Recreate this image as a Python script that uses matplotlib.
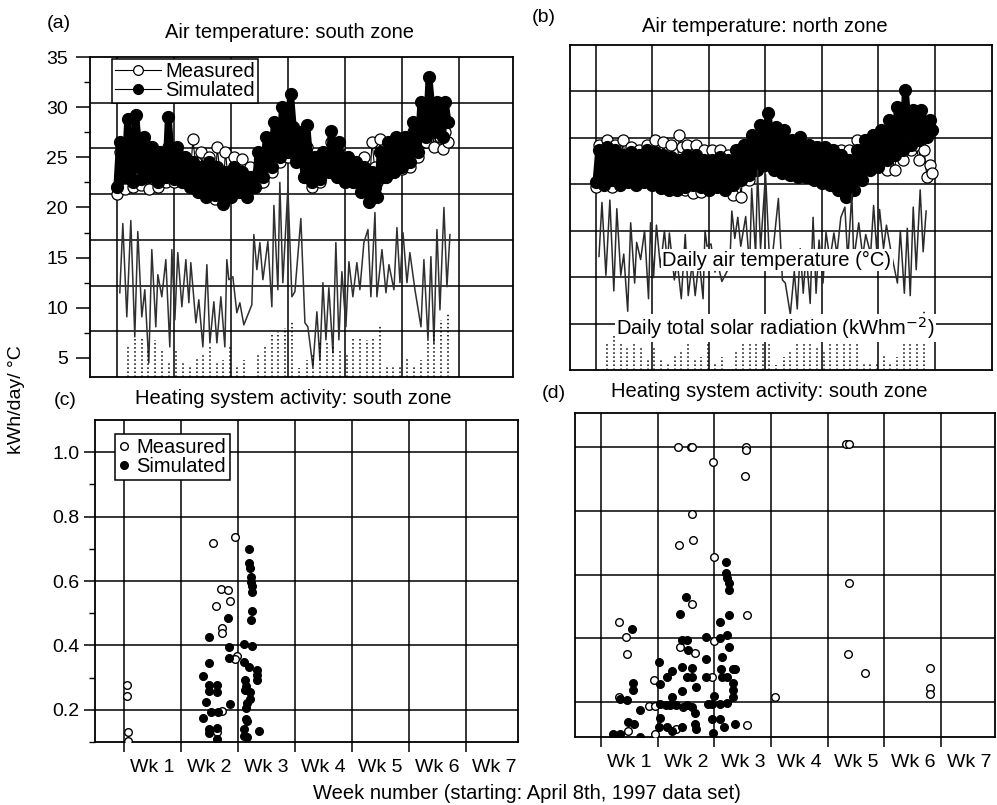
"""
Four-panel validation figure: zone air temperatures (measured vs simulated) with the
daily climate, and the heating-system activity for the south zone.
Output: out.png
"""
import numpy as np
import matplotlib; matplotlib.use("Agg"); import matplotlib.pyplot as plt

plt.rcParams['font.family'] = ['Liberation Sans', 'DejaVu Sans']
plt.rcParams['font.size'] = 14

# zone air temperature, 3 readings per day (low, high, mid), day 0 = April 8th
sim_south = [22.0, 26.5, 24.0, 23.0, 28.8, 25.5, 22.5, 29.2, 26.0, 22.8, 27.0, 24.5,
             23.0, 26.0, 24.2, 22.5, 25.5, 24.0, 23.0, 29.0, 25.0, 22.8, 26.0, 24.5,
             22.5, 25.0, 23.8, 22.0, 24.5, 23.2, 21.5, 24.0, 22.8, 21.0, 24.5, 22.5,
             21.2, 24.0, 22.5, 20.3, 23.5, 22.0, 21.0, 24.0, 22.5, 21.5, 23.5, 22.5,
             21.0, 23.0, 22.0, 22.0, 25.5, 23.5, 23.0, 27.0, 25.0, 24.0, 28.5, 26.0,
             25.0, 30.0, 27.5, 25.5, 31.3, 28.0, 24.5, 27.5, 26.0, 23.0, 28.2, 25.0,
             22.5, 25.0, 23.8, 22.8, 25.5, 24.0, 23.5, 27.6, 25.5, 23.0, 26.5, 24.5,
             22.5, 25.0, 23.8, 22.5, 24.5, 23.5, 21.5, 24.0, 22.8, 20.5, 23.5, 22.0,
             21.0, 25.5, 23.0, 23.0, 26.5, 24.8, 23.5, 27.0, 25.2, 24.0, 27.0, 25.5,
             24.5, 28.5, 26.5, 25.5, 30.5, 28.0, 27.0, 33.0, 30.0, 27.5, 30.5, 29.0,
             27.0, 30.5, 28.5]
meas_south = [21.3, 25.5, 23.0, 21.8, 26.5, 24.0, 22.0, 27.0, 24.0, 22.2, 26.5, 24.0,
              21.8, 25.5, 23.5, 22.0, 25.0, 23.0, 22.5, 26.0, 24.0, 22.5, 25.5, 24.0,
              22.8, 25.0, 23.5, 22.5, 26.8, 24.5, 22.0, 25.5, 24.0, 21.5, 25.0, 23.0,
              20.8, 26.0, 23.5, 21.0, 25.5, 23.0, 21.3, 25.0, 23.5, 21.5, 24.8, 23.0,
              21.5, 24.0, 22.5, 22.0, 23.5, 22.5, 22.5, 25.5, 24.0, 23.5, 26.5, 25.0,
              24.5, 27.5, 26.0, 25.0, 28.0, 26.0, 24.8, 26.5, 25.5, 23.0, 26.0, 24.5,
              22.0, 25.0, 23.5, 22.5, 25.5, 24.0, 23.5, 26.5, 25.0, 23.0, 26.0, 24.5,
              22.5, 25.0, 23.5, 22.5, 24.5, 23.5, 22.0, 25.0, 23.5, 21.5, 26.5, 24.0,
              22.5, 26.8, 24.5, 23.0, 26.0, 24.5, 23.5, 26.5, 25.0, 23.8, 27.0, 25.0,
              24.0, 27.5, 25.5, 25.0, 28.0, 26.5, 26.5, 30.0, 28.0, 26.0, 28.5, 27.0,
              25.8, 27.5, 26.5]
sim_north = [22.3, 25.5, 24.0, 22.0, 25.8, 23.5, 22.5, 25.5, 24.0, 22.0, 25.0, 23.5,
             22.3, 25.3, 23.8, 22.0, 25.0, 23.5, 22.3, 25.5, 24.0, 22.0, 25.3, 23.5,
             21.7, 25.0, 23.2, 21.5, 24.8, 23.0, 21.5, 24.5, 23.0, 21.8, 25.0, 23.2,
             22.0, 25.0, 23.5, 21.8, 24.5, 23.0, 21.5, 24.5, 23.0, 21.8, 24.8, 23.2,
             21.5, 24.5, 23.0, 22.0, 25.5, 23.5, 22.5, 26.0, 24.0, 23.0, 27.0, 25.0,
             23.5, 28.0, 25.5, 24.0, 29.2, 26.5, 23.5, 27.8, 25.5, 23.2, 27.5, 25.0,
             23.0, 26.5, 24.5, 22.8, 26.8, 24.5, 22.8, 26.0, 24.2, 22.5, 25.8, 24.0,
             22.2, 25.8, 24.0, 22.0, 25.5, 23.5, 21.5, 25.0, 23.2, 20.8, 24.5, 22.5,
             21.5, 25.5, 23.5, 22.5, 26.5, 24.5, 23.5, 27.0, 25.0, 23.8, 27.5, 25.5,
             24.5, 28.5, 26.5, 25.0, 29.8, 27.0, 25.5, 31.5, 28.0, 26.0, 29.5, 27.5,
             26.5, 29.5, 28.0, 26.8, 28.5, 27.5]
meas_north = [21.8, 26.0, 24.0, 22.5, 26.5, 24.5, 21.8, 26.0, 24.0, 22.5, 26.5, 24.5,
              22.5, 25.8, 24.0, 22.8, 25.5, 24.0, 22.5, 26.0, 24.0, 23.0, 26.5, 25.0,
              22.8, 26.3, 24.5, 22.5, 26.0, 24.0, 23.0, 27.0, 25.8, 21.5, 26.0, 23.5,
              21.2, 26.0, 23.5, 21.3, 25.5, 23.5, 21.5, 25.5, 23.5, 22.0, 25.5, 24.0,
              21.8, 25.0, 23.5, 21.0, 25.5, 23.0, 20.8, 26.0, 23.0, 22.5, 26.5, 24.5,
              23.5, 26.8, 25.0, 25.0, 27.0, 26.0, 24.0, 27.0, 25.5, 23.5, 26.5, 25.0,
              23.0, 26.0, 24.5, 23.5, 26.8, 25.0, 23.0, 26.0, 24.5, 23.0, 25.8, 24.5,
              22.5, 25.5, 24.0, 24.5, 25.5, 25.0, 24.0, 25.5, 24.8, 23.5, 25.5, 24.5,
              24.5, 26.5, 25.5, 24.0, 26.5, 25.0, 24.5, 27.0, 25.5, 24.0, 26.8, 25.5,
              23.5, 26.5, 25.0, 23.5, 26.0, 25.0, 24.5, 27.0, 26.0, 25.5, 26.8, 26.0,
              24.5, 26.5, 25.5, 22.8, 24.0, 23.2]

# daily climate (days since start)
clim_day = [0.37, 0.74, 1.23, 1.72, 2.21, 2.58, 3.07, 3.44, 3.93, 4.30, 4.79, 5.04,
            5.53, 6.02, 6.51, 6.76, 7.13, 7.49, 7.99, 8.48, 8.85, 9.09, 9.71, 10.07,
            10.57, 11.06, 11.43, 11.92, 12.29, 12.78, 13.27, 13.51, 13.76, 14.25, 14.74,
            15.11, 15.60, 16.58, 16.83, 17.20, 17.57, 17.94, 18.55, 19.04, 19.29, 19.78,
            20.02, 20.39, 21.01, 21.50, 21.87, 22.60, 23.10, 23.46, 24.08, 24.57, 24.94,
            25.31, 25.68, 26.04, 26.54, 26.90, 27.27, 27.64, 28.13, 28.50, 28.99, 29.48,
            29.85, 30.34, 30.84, 31.20, 31.70, 31.94, 32.56, 33.05, 33.42, 34.03, 34.40,
            34.77, 35.14, 35.63, 35.99, 36.61, 37.35, 37.71, 38.21, 38.57, 38.94, 39.31,
            39.68, 40.17, 40.54, 40.91]
clim_temp = [11.5, 18.4, 9.1, 18.7, 7.1, 17.6, 9.1, 11.8, 4.5, 15.8, 8.1, 13.3,
             11.1, 14.8, 6.1, 15.8, 8.8, 15.5, 10.1, 14.8, 10.5, 14.5, 8.5, 10.8,
             6.1, 14.3, 6.5, 10.6, 6.5, 11.1, 6.1, 14.8, 12.8, 13.1, 9.5,
             10.5, 8.3, 10.3, 17.3, 13.8, 16.5, 12.8, 16.6, 10.1, 20.2, 11.8,
             22.5, 12.5, 22.0, 11.1, 11.6, 18.9, 8.5, 8.1, 4.1, 9.6, 4.8,
             12.5, 6.8, 12.0, 5.5, 16.5, 6.8, 13.6, 8.1, 14.6, 11.1, 14.5,
             11.8, 16.5, 17.8, 11.1, 19.5, 11.1, 15.8, 11.5, 14.3, 11.8, 18.0,
             12.5, 17.5, 12.5, 15.5, 11.8, 8.1, 14.8, 6.8, 15.1, 6.5, 17.8,
             9.8, 20.0, 12.1, 17.3]
solar_day = [1.35, 2.21, 3.07, 3.81, 4.67, 5.53, 6.39, 7.25, 8.11, 8.97, 9.83, 10.57,
             11.43, 12.29, 13.02, 13.88, 14.74, 15.60, 17.32, 18.18, 19.04, 19.78, 20.64,
             21.50, 22.36, 23.34, 24.08, 24.94, 25.80, 26.54, 27.40, 28.26, 28.99, 29.85,
             30.71, 31.45, 32.31, 33.17, 33.91, 34.77, 35.63, 36.49, 37.35, 38.21, 38.94,
             39.80, 40.66]
solar_kwh = [6.1, 7.0, 7.1, 5.8, 6.8, 5.8, 4.5, 5.8, 4.5, 4.3, 5.1, 5.5,
             6.1, 4.6, 4.8, 6.1, 4.1, 4.8, 5.5, 6.3, 7.3, 7.6, 8.0,
             8.6, 4.0, 4.8, 5.5, 6.5, 6.5, 6.1, 5.8, 5.5, 7.1, 7.1,
             6.8, 7.1, 8.3, 4.3, 4.3, 4.3, 5.0, 4.1, 4.8, 6.8, 7.8,
             8.8, 9.5]

# heating system activity (week, kWh/day)
c_meas_wk = [0.05, 0.05, 0.07, 0.07, 1.56, 1.95, 1.70, 1.82, 1.61, 1.86, 1.72, 1.72,
             1.98, 1.95, 1.72, 1.63]
c_meas = [0.276, 0.242, 0.13, 0.104, 0.717, 0.737, 0.575, 0.571, 0.522, 0.537, 0.453,
          0.438, 0.367, 0.357, 0.196, 0.13]
c_sim_wk = [1.49, 1.39, 1.49, 1.49, 1.49, 1.63, 1.63, 1.44, 1.53, 1.65, 1.39, 1.49,
            1.49, 1.63, 1.63, 1.82, 1.84, 1.84, 1.86, 2.19, 2.19, 2.21, 2.23, 2.23,
            2.25, 2.25, 2.25, 2.23, 2.25, 2.11, 2.11, 2.19, 2.33, 2.33, 2.33, 2.12,
            2.14, 2.12, 2.21, 2.21, 2.16, 2.14, 2.14, 2.16, 2.11, 2.11, 2.16, 2.37]
c_sim = [0.425, 0.305, 0.345, 0.276, 0.258, 0.276, 0.255, 0.224, 0.193, 0.193, 0.174,
         0.14, 0.127, 0.143, 0.11, 0.484, 0.394, 0.36, 0.217, 0.70, 0.655, 0.64, 0.612,
         0.598, 0.583, 0.565, 0.507, 0.478, 0.398, 0.404, 0.348, 0.333, 0.323, 0.307,
         0.292, 0.292, 0.273, 0.261, 0.255, 0.233, 0.22, 0.205, 0.171, 0.165, 0.14,
         0.118, 0.115, 0.133]
d_meas_wk = [1.35, 1.58, 1.61, 2.56, 2.56, 4.32, 4.37, 1.98, 2.54, 1.60, 1.37, 1.63,
             2.00, 1.61, 2.58, 4.37, 0.32, 0.44, 0.46, 1.39, 1.65, 2.00, 4.35, 4.65,
             5.81, 5.81, 5.81, 3.07, 0.93, 1.96, 0.32, 0.84, 0.96, 2.58, 0.47, 0.96, 1.33]
d_meas = [1.0, 1.0, 1.0, 1.0, 0.99, 1.01, 1.01, 0.953, 0.909, 0.79, 0.692, 0.708,
          0.654, 0.506, 0.472, 0.572, 0.45, 0.403, 0.352, 0.374, 0.355, 0.39, 0.349,
          0.292, 0.308, 0.245, 0.226, 0.217, 0.27, 0.277, 0.214, 0.186, 0.186, 0.129,
          0.11, 0.10, 0.116]
d_sim_wk = [0.54, 0.56, 0.56, 0.33, 0.46, 0.68, 0.47, 0.58, 0.21, 0.33, 0.68, 1.02,
            1.04, 1.04, 1.02, 1.16, 1.26, 1.26, 1.14, 1.21, 1.39, 1.49, 1.42, 1.51,
            1.42, 1.42, 1.33, 1.44, 1.51, 1.61, 1.61, 1.67, 1.51, 1.53, 1.61, 1.65,
            1.65, 1.67, 1.16, 1.26, 1.86, 1.86, 1.86, 1.88, 1.96, 2.00, 1.96, 1.98,
            2.09, 2.09, 2.14, 2.12, 2.14, 2.09, 2.09, 2.16, 2.21, 2.21, 2.23, 2.25,
            2.25, 2.25, 2.23, 2.25, 2.23, 2.23, 2.33, 2.37, 2.33, 2.33, 2.33, 2.37,
            1.04, 1.42]
d_sim = [0.428, 0.258, 0.236, 0.208, 0.205, 0.176, 0.138, 0.132, 0.10, 0.10, 0.09, 0.324,
         0.255, 0.151, 0.12, 0.277, 0.296, 0.214, 0.189, 0.189, 0.475, 0.528, 0.396, 0.396,
         0.311, 0.233, 0.189, 0.183, 0.189, 0.308, 0.277, 0.248, 0.277, 0.362, 0.183, 0.164,
         0.132, 0.116, 0.12, 0.11, 0.403, 0.336, 0.277, 0.195, 0.195, 0.22, 0.148, 0.104,
         0.45, 0.40, 0.34, 0.305, 0.277, 0.195, 0.148, 0.12, 0.638, 0.604, 0.588, 0.572,
         0.55, 0.472, 0.409, 0.371, 0.277, 0.198, 0.305, 0.305, 0.258, 0.236, 0.214, 0.132,
         0.195, 0.12]

week_labels = ["Wk 1", "Wk 2", "Wk 3", "Wk 4", "Wk 5", "Wk 6", "Wk 7"]

W, H = 997, 805
fig = plt.figure(figsize=(W/100, H/100), dpi=100)

def box(l, t, r, b):
    return [l/W, 1 - b/H, (r - l)/W, (b - t)/H]

def grid(ax, rows):
    for s in ax.spines.values():
        s.set_linewidth(1.3)
    for k in range(7):
        ax.axvline(k, color="k", lw=1.1, zorder=1)
    for y in rows:
        ax.axhline(y, color="k", lw=1.1, zorder=1)

def week_axis(ax):
    ax.set_xticks(range(7))
    ax.set_xticklabels([])
    ax.set_xticks(np.arange(7) + 0.5, minor=True)
    ax.set_xticklabels(week_labels, minor=True)
    ax.tick_params(axis="x", which="major", length=7, width=1.1, direction="out")
    ax.tick_params(axis="x", which="minor", length=0, pad=12)

def temp_panel(ax, sim, meas):
    t_sim = np.arange(len(sim))/3/7
    t_meas = np.arange(len(meas))/3/7
    ax.plot(t_meas, meas, "-", color="k", lw=0.8, zorder=3)
    ax.plot(t_meas, meas, "o", ms=8, mfc="white", mec="k", mew=0.9, zorder=3)
    ax.plot(t_sim, sim, "-", color="k", lw=5, solid_joinstyle="round",
            solid_capstyle="round", zorder=3.5)
    ax.plot(t_sim, sim, "o", ms=8.5, mfc="k", mec="k", zorder=3.5)
    # legend proxies
    lm, = ax.plot([], [], "-o", color="k", lw=0.8, ms=7, mfc="white", mec="k", mew=0.9)
    ls, = ax.plot([], [], "-o", color="k", lw=0.8, ms=7, mfc="k", mec="k")
    return lm, ls

# ---- (a) air temperature south ----
ax_a = fig.add_axes(box(90, 57, 513, 377))
ylo, yhi = 3.1, 35
ax_a.set_xlim(-0.47, 6.95); ax_a.set_ylim(ylo, yhi)
grid(ax_a, np.linspace(ylo, yhi, 8)[1:-1])
lm, ls = temp_panel(ax_a, sim_south, meas_south)
ax_a.plot(np.array(clim_day)/7, clim_temp, color="#303030", lw=1.1, zorder=2)
ax_a.vlines(np.array(solar_day)/7, ylo, solar_kwh, colors="k", linestyles=":",
            lw=1.1, zorder=2)
ax_a.set_yticks(range(5, 36, 5))
ax_a.set_yticks(np.arange(7.5, 35, 5), minor=True)
ax_a.tick_params(axis="y", which="major", length=10, width=1.1, pad=6)
ax_a.tick_params(axis="y", which="minor", length=4, width=1.0)
ax_a.set_xticks([])
leg = ax_a.legend([lm, ls], ["Measured", "Simulated"], loc="upper left",
                  bbox_to_anchor=(0.052, 0.993), fancybox=False, edgecolor="k",
                  framealpha=1, borderpad=0.15, labelspacing=0.0, handlelength=2.3,
                  handletextpad=0.2, borderaxespad=0, fontsize=14.5)
leg.get_frame().set_linewidth(1.1)
leg.set_zorder(6)

# ---- (b) air temperature north ----
ax_b = fig.add_axes(box(570, 45, 992, 370))
ylo_b, yhi_b = 3.5, 36.0
ax_b.set_xlim(-0.46, 7.01); ax_b.set_ylim(ylo_b, yhi_b)
grid(ax_b, np.linspace(ylo_b, yhi_b, 8)[1:-1])
temp_panel(ax_b, sim_north, meas_north)
ax_b.vlines(np.array(solar_day)/7, ylo_b, solar_kwh, colors="k", linestyles=":",
            lw=1.1, zorder=2)
ax_b.set_xticks([]); ax_b.set_yticks([])
ax_b2 = ax_b.twinx()
ax_b2.set_ylim(-3.0, 38.5)
ax_b2.plot(np.array(clim_day)/7, clim_temp, color="#2a2a2a", lw=1.1, zorder=2)
ax_b2.set_yticks([])
for s in ax_b2.spines.values():
    s.set_visible(False)
ax_b2.text(0.49, 0.338, "Daily air temperature (°C)", transform=ax_b2.transAxes,
           ha="center", va="center", zorder=6, fontsize=14.5,
           bbox=dict(facecolor="white", edgecolor="none", pad=1.0))
ax_b2.text(0.487, 0.129, "Daily total solar radiation (kWhm$^{-2}$)",
           transform=ax_b2.transAxes, ha="center", va="center", zorder=6, fontsize=14.5,
           bbox=dict(facecolor="white", edgecolor="none", pad=1.0))

# ---- (c) heating south ----
ax_c = fig.add_axes(box(95, 420, 518, 742))
ax_c.set_xlim(-0.51, 6.91); ax_c.set_ylim(0.1, 1.1)
grid(ax_c, [0.2, 0.4, 0.6, 0.8, 1.0])
hm, = ax_c.plot(c_meas_wk, c_meas, "o", ms=5.5, mfc="white", mec="k", mew=1.0, zorder=3)
hs, = ax_c.plot(c_sim_wk, c_sim, "o", ms=5.5, mfc="k", mec="k", zorder=3)
ax_c.set_yticks([0.2, 0.4, 0.6, 0.8, 1.0])
ax_c.set_yticklabels(["0.2", "0.4", "0.6", "0.8", "1.0"])
ax_c.set_yticks(np.arange(0.1, 1.1, 0.2), minor=True)
ax_c.tick_params(axis="y", which="major", length=8, width=1.1, pad=3)
ax_c.tick_params(axis="y", which="minor", length=4, width=1.0)
week_axis(ax_c)
leg = ax_c.legend([hm, hs], ["Measured", "Simulated"], loc="upper left",
                  bbox_to_anchor=(0.047, 0.957), fancybox=False, edgecolor="k",
                  framealpha=1, borderpad=0.2, labelspacing=0.0, handlelength=0.5,
                  handletextpad=0.35, borderaxespad=0, fontsize=14.5)
leg.get_frame().set_linewidth(1.1)

# ---- (d) heating (second zone plot) ----
ax_d = fig.add_axes(box(575, 413, 995, 737))
ax_d.set_xlim(-0.46, 6.95); ax_d.set_ylim(0.09, 1.107)
grid(ax_d, [0.2, 0.4, 0.6, 0.8, 1.0])
ax_d.plot(d_meas_wk, d_meas, "o", ms=5.5, mfc="white", mec="k", mew=1.0, zorder=3)
ax_d.plot(d_sim_wk, d_sim, "o", ms=5.5, mfc="k", mec="k", zorder=3)
ax_d.set_yticks([])
week_axis(ax_d)

# ---- titles and labels ----
def ftext(px, py, s, **kw):
    fig.text(px/W, 1 - py/H, s, ha="center", va="center", **kw)

ftext(59, 23, "(a)")
ftext(289, 33, "Air temperature: south zone", fontsize=14.5)
ftext(544, 17, "(b)")
ftext(765, 27, "Air temperature: north zone", fontsize=14.5)
ftext(65, 400, "(c)")
ftext(293, 398, "Heating system activity: south zone", fontsize=14.5)
ftext(554, 393, "(d)")
ftext(769, 391, "Heating system activity: south zone", fontsize=14.5)
ftext(17, 400, "kWh/day/ °C", rotation=90)
ftext(527, 793, "Week number (starting: April 8th, 1997 data set)", fontsize=14.5)

fig.savefig("out.png", dpi=100)
